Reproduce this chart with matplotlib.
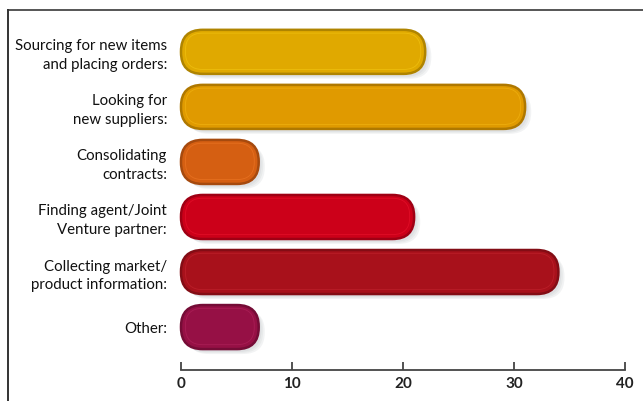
import matplotlib
matplotlib.use("Agg")
import matplotlib.pyplot as plt
from matplotlib.patches import FancyBboxPatch
from matplotlib.lines import Line2D
import matplotlib.colors as mcolors
import numpy as np

plt.rcParams["font.family"] = ["Lato", "DejaVu Sans"]

labels = ["Sourcing for new items\nand placing orders:",
          "Looking for\nnew suppliers:",
          "Consolidating\ncontracts:",
          "Finding agent/Joint\nVenture partner:",
          "Collecting market/\nproduct information:",
          "Other:"]
values = [22, 31, 7, 21, 34, 7]
colors = ["#e0a900", "#e09a00", "#d55f12", "#cc0019", "#a8111b", "#961045"]
ticks = [0, 10, 20, 30, 40]

W, H = 643, 401
fig = plt.figure(figsize=(W / 100, H / 100), dpi=100)
ax = fig.add_axes([181 / W, (H - 370) / H, (625 - 181) / W, 360 / H])

y = np.arange(len(values))
bars = ax.barh(y, values, height=0.8, color="none")
ax.set_xlim(0, 40)
ax.set_ylim(5.78, -0.76)

rx = 1.95          # corner radius in x data units
aspect = 0.2       # y units per x unit for rounding
for b, c in zip(bars, colors):
    x0, y0, w, h = b.get_x(), b.get_y(), b.get_width(), b.get_height()
    dark = np.array(mcolors.to_rgb(c)) * 0.78
    light = np.clip(np.array(mcolors.to_rgb(c)) * 1.1 + 0.12, 0, 1)
    # soft shadow
    for k, a in enumerate([0.05, 0.05, 0.06]):
        off = 0.25 + 0.15 * k
        sh = FancyBboxPatch((x0 + off, y0 + 0.05 + 0.02 * k), w, h,
                            boxstyle=f"round,pad=0,rounding_size={rx}",
                            mutation_aspect=aspect, fc="#30404a", ec="none",
                            alpha=a, clip_on=False, zorder=1)
        ax.add_patch(sh)
    p = FancyBboxPatch((x0, y0), w, h,
                       boxstyle=f"round,pad=0,rounding_size={rx}",
                       mutation_aspect=aspect, fc=c, ec=dark, lw=1.8,
                       clip_on=False, zorder=3)
    ax.add_patch(p)
    hl = FancyBboxPatch((x0 + 0.4, y0 + 0.06), w - 0.8, h - 0.14,
                        boxstyle=f"round,pad=0,rounding_size={rx - 0.4}",
                        mutation_aspect=aspect, fc="none", ec=light, lw=0.6,
                        alpha=0.4, clip_on=False, zorder=4)
    ax.add_patch(hl)

ax.set_yticks(y)
ax.set_yticklabels(labels, fontsize=10.8, color="#111111", linespacing=1.45)
ax.tick_params(axis="y", length=0, pad=10)
ax.set_xticks(ticks)
ax.set_xticklabels([str(t) for t in ticks], fontsize=11, fontweight="bold",
                   color="#222222")
ax.tick_params(axis="x", direction="in", length=6, width=1.3, color="#444444",
               pad=5)
for s in ["top", "right", "left"]:
    ax.spines[s].set_visible(False)
ax.spines["bottom"].set_color("#444444")
ax.spines["bottom"].set_linewidth(1.3)

# outer frame (top and left)
fig.add_artist(Line2D([7.5 / W, 1], [1 - 9.5 / H, 1 - 9.5 / H],
                      transform=fig.transFigure, color="#555555", lw=1.4))
fig.add_artist(Line2D([7.5 / W, 7.5 / W], [0, 1 - 9.5 / H],
                      transform=fig.transFigure, color="#333333", lw=1.4))

fig.savefig("out.png", dpi=100)
